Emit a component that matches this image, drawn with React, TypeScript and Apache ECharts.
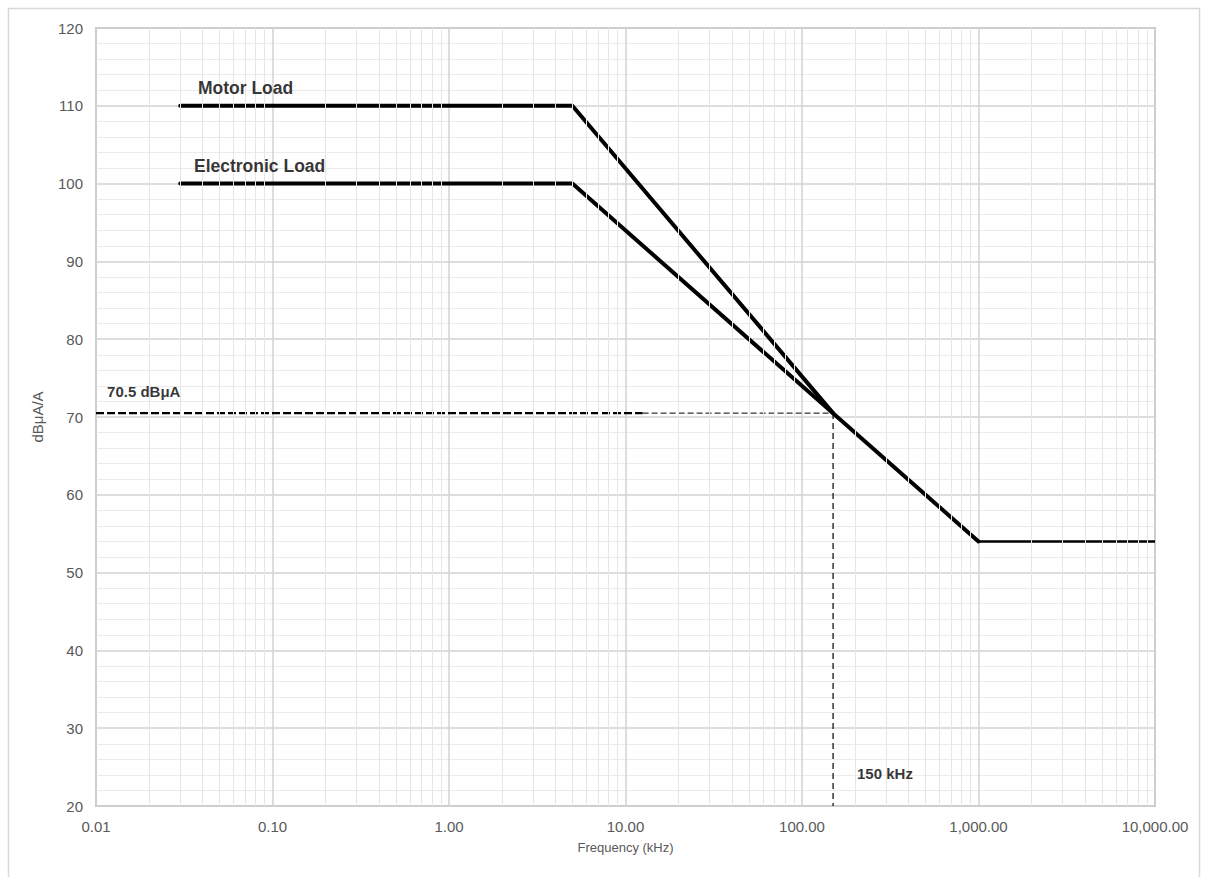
import React, { useEffect, useRef } from "react";
import * as echarts from "echarts";

const xTickLabels = ["0.01", "0.10", "1.00", "10.00", "100.00", "1,000.00", "10,000.00"];
const decades = [0.01, 0.1, 1, 10, 100, 1000];
const minorMultipliers = [2, 3, 4, 5, 6, 7, 8, 9];

const motorLoad: [number, number][] = [
  [0.03, 110],
  [5, 110],
  [150, 70.5],
];
const electronicLoad: [number, number][] = [
  [0.03, 100],
  [5, 100],
  [1000, 54],
];
const commonTail: [number, number][] = [
  [1000, 54],
  [10000, 54],
];
const refHorizontalThick: [number, number][] = [
  [0.01, 70.5],
  [12.5, 70.5],
];
const refHorizontalThin: [number, number][] = [
  [12.5, 70.5],
  [150, 70.5],
];
const refVertical: [number, number][] = [
  [150, 70.5],
  [150, 20],
];
const annotations = [
  { name: "Motor Load", value: [0.0378, 112.3], size: 17.5 },
  { name: "Electronic Load", value: [0.0359, 102.3], size: 17.5 },
  { name: "70.5 dBμA", value: [0.01155, 73.3], size: 15 },
  { name: "150 kHz", value: [205, 24.2], size: 15 },
];

const FONT = "'Liberation Sans', Arial, sans-serif";

export default function App() {
  const ref = useRef<HTMLDivElement>(null);
  useEffect(() => {
    if (!ref.current) return;
    const chart = echarts.init(ref.current, undefined, { renderer: "svg" });
    const minorX: { xAxis: number }[] = [];
    decades.forEach((d) => minorMultipliers.forEach((m) => minorX.push({ xAxis: d * m })));

    chart.setOption({
      animation: false,
      backgroundColor: "#ffffff",
      textStyle: { fontFamily: FONT },
      graphic: [
        {
          type: "rect",
          shape: { x: 8.5, y: 8.5, width: 1191, height: 900 },
          style: { fill: "none", stroke: "#d9d9d9", lineWidth: 1.5 },
          silent: true,
        },
      ],
      grid: {
        left: 96,
        right: 50,
        top: 28,
        bottom: 71,
        show: true,
        borderColor: "#c4c4c4",
        borderWidth: 2,
        backgroundColor: "transparent",
      },
      xAxis: {
        type: "log",
        logBase: 10,
        min: 0.01,
        max: 10000,
        interval: 1,
        name: "Frequency (kHz)",
        nameLocation: "middle",
        nameGap: 35,
        nameTextStyle: { color: "#595959", fontSize: 13, fontFamily: FONT },
        axisLine: { show: false },
        axisTick: { show: false },
        axisLabel: {
          color: "#595959",
          fontSize: 15,
          fontFamily: FONT,
          margin: 13,
          formatter: (v: number) => xTickLabels[Math.round(Math.log10(v)) + 2] ?? "",
        },
        splitLine: { show: true, lineStyle: { color: "#d2d2d2", width: 1.5 } },
      },
      yAxis: {
        type: "value",
        min: 20,
        max: 120,
        interval: 10,
        name: "dBμA/A",
        nameLocation: "middle",
        nameGap: 51,
        nameTextStyle: { color: "#595959", fontSize: 15, fontFamily: FONT },
        axisLine: { show: false },
        axisTick: { show: false },
        minorTick: { show: false, splitNumber: 5 },
        minorSplitLine: { show: true, lineStyle: { color: "#ebebeb", width: 1 } },
        axisLabel: { color: "#595959", fontSize: 15, fontFamily: FONT, margin: 13 },
        splitLine: { show: true, lineStyle: { color: "#d2d2d2", width: 1.5 } },
      },
      series: [
        {
          type: "line",
          name: "minorGrid",
          data: [[0.01, 20]],
          symbol: "none",
          lineStyle: { opacity: 0 },
          silent: true,
          z: 0,
          markLine: {
            silent: true,
            symbol: ["none", "none"],
            label: { show: false },
            lineStyle: { color: "#e6e6e6", width: 1, type: "solid" },
            data: minorX,
            animation: false,
          },
        },
        {
          type: "line",
          name: "ref thick",
          data: refHorizontalThick,
          symbol: "none",
          lineStyle: { color: "#000", width: 2.2, type: [8, 3] },
          z: 3,
        },
        {
          type: "line",
          name: "ref thin",
          data: refHorizontalThin,
          symbol: "none",
          lineStyle: { color: "#000", width: 1, type: [6, 3] },
          z: 3,
        },
        {
          type: "line",
          name: "ref vertical",
          data: refVertical,
          symbol: "none",
          lineStyle: { color: "#000", width: 1.2, type: [6, 4] },
          z: 3,
        },
        {
          type: "line",
          name: "Motor Load",
          data: motorLoad,
          symbol: "none",
          lineStyle: { color: "#000", width: 4, cap: "round", join: "round" },
          z: 4,
        },
        {
          type: "line",
          name: "Electronic Load",
          data: electronicLoad,
          symbol: "none",
          lineStyle: { color: "#000", width: 4, cap: "round", join: "round" },
          z: 4,
        },
        {
          type: "line",
          name: "tail",
          data: commonTail,
          symbol: "none",
          lineStyle: { color: "#000", width: 2.5 },
          z: 4,
        },
        {
          type: "scatter",
          name: "annotations",
          symbolSize: 0,
          silent: true,
          z: 5,
          data: annotations.map((a) => ({
            name: a.name,
            value: a.value,
            label: {
              show: true,
              position: "right",
              distance: 0,
              formatter: a.name,
              color: "#000",
              fontSize: a.size,
              fontWeight: "bold",
              fontFamily: FONT,
              align: "left",
              verticalAlign: "middle",
            },
          })),
        },
      ],
    });
    return () => chart.dispose();
  }, []);

  return (
    <div
      ref={ref}
      style={{ position: "fixed", left: 0, top: 0, width: 1205, height: 877 }}
    />
  );
}
